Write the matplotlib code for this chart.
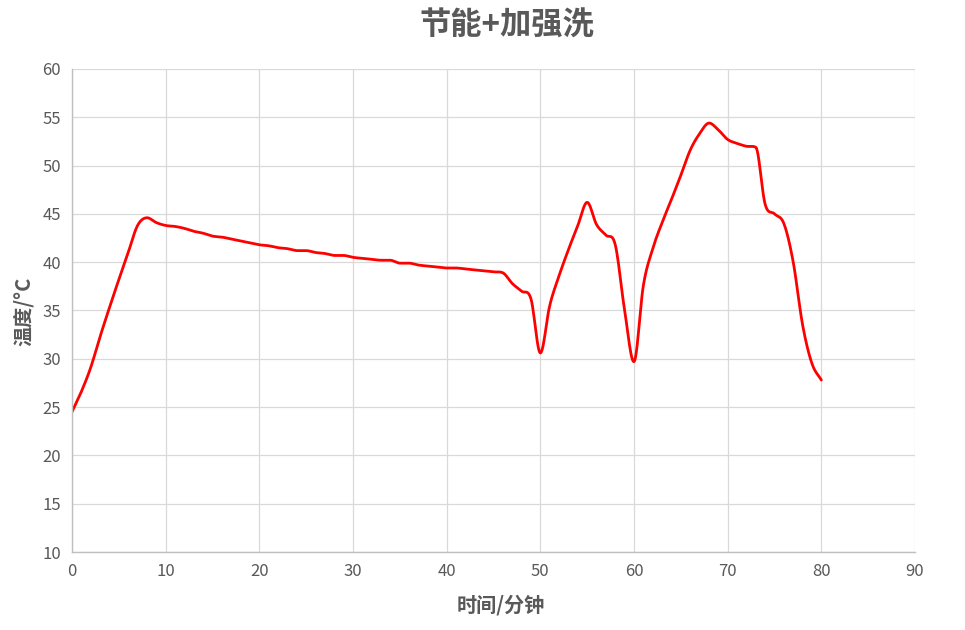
import numpy as np
import matplotlib.pyplot as plt

plt.rcParams['font.family'] = ['Noto Sans CJK SC', 'DejaVu Sans']

# minutes and temperature readings
minutes = list(range(0, 81))
temps = [24.5, 26.6, 29.1, 32.3, 35.3, 38.2, 41.0, 43.8, 44.6, 44.1,
         43.8, 43.7, 43.5, 43.2, 43.0, 42.7, 42.6, 42.4, 42.2, 42.0,
         41.8, 41.7, 41.5, 41.4, 41.2, 41.2, 41.0, 40.9, 40.7, 40.7,
         40.5, 40.4, 40.3, 40.2, 40.2, 39.9, 39.9, 39.7, 39.6, 39.5,
         39.4, 39.4, 39.3, 39.2, 39.1, 39.0, 38.9, 37.8, 37.0, 36.2,
         30.6, 35.5, 38.6, 41.3, 43.8, 46.2, 43.9, 42.8, 41.8, 35.0,
         29.7, 37.6, 41.4, 44.1, 46.5, 49.0, 51.6, 53.3, 54.4, 53.7,
         52.7, 52.3, 52.0, 51.9, 46.0, 45.0, 44.0, 40.0, 33.5, 29.5,
         27.8]

title = "节能+加强洗"
x_label = "时间/分钟"
y_label = "温度/°C"


def smooth(x, y, n=12):
    # hermite curve through the points, tangents from catmull-rom
    # but damped where the slope turns sharply (no overshoot)
    x = np.asarray(x, float)
    y = np.asarray(y, float)
    sec = np.diff(y) / np.diff(x)
    dy = np.zeros_like(y)
    dy[0], dy[-1] = sec[0], sec[-1]
    for i in range(1, len(y) - 1):
        a, b = sec[i - 1], sec[i]
        cr = 0.5 * (a + b)
        if a * b <= 0:
            dy[i] = cr * 0.3
        else:
            hm = 2 * a * b / (a + b)
            dy[i] = cr if abs(cr) <= 2.5 * abs(hm) else hm * 2.5
    t = np.linspace(0, 1, n, endpoint=False)
    h00 = 2 * t**3 - 3 * t**2 + 1
    h10 = t**3 - 2 * t**2 + t
    h01 = -2 * t**3 + 3 * t**2
    h11 = t**3 - t**2
    xs, ys = [], []
    for i in range(len(x) - 1):
        d = x[i + 1] - x[i]
        xs.extend(x[i] + t * d)
        ys.extend(h00 * y[i] + h10 * d * dy[i] + h01 * y[i + 1] + h11 * d * dy[i + 1])
    xs.append(x[-1])
    ys.append(y[-1])
    return np.array(xs), np.array(ys)


fig = plt.figure(figsize=(9.65, 6.3), dpi=100)
ax = fig.add_axes([0.0746, 0.1238, 0.8736, 0.7667])

sx, sy = smooth(minutes, temps)
ax.plot(sx, sy, color='#ff0000', lw=2.0, solid_capstyle='round')

ax.set_xlim(0, 90)
ax.set_ylim(10, 60)
ax.set_xticks(range(0, 91, 10))
ax.set_yticks(range(10, 61, 5))
ax.grid(True, color='#d9d9d9', lw=0.9)
ax.set_axisbelow(True)
for s in ['top', 'right']:
    ax.spines[s].set_visible(False)
for s in ['left', 'bottom']:
    ax.spines[s].set_color('#bfbfbf')
    ax.spines[s].set_linewidth(1.0)
ax.tick_params(length=0, labelsize=12, colors='#595959', pad=8)

fig.text(0.5254, 0.960, title, fontsize=22.5, fontweight='bold', color='#595959',
         ha='center', va='center')
fig.text(0.519, 0.040, x_label, fontsize=14.5, fontweight='bold', color='#595959',
         ha='center', va='center')
fig.text(0.024, 0.506, y_label, fontsize=14.5, fontweight='bold', color='#595959',
         ha='center', va='center', rotation=90)

fig.savefig('out.png', dpi=100, facecolor='white')
